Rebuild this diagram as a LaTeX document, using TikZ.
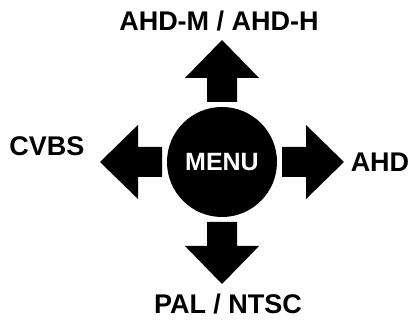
\documentclass[tikz,border=0pt]{standalone}
\usepackage{fontspec}
\setmainfont{Liberation Sans}
\usetikzlibrary{positioning}

\begin{document}
\begin{tikzpicture}[x=1pt,y=-1pt,
    keyarrow/.style={fill=black},
    lbl/.style={font=\bfseries\fontsize{27}{30}\selectfont, inner sep=0pt}]

      \useasboundingbox (0,0) rectangle (410,320);

      % menu button
      \node[circle, fill=black, minimum size=110pt, inner sep=0pt,
        text=white, font=\bfseries\fontsize{25}{28}\selectfont] (menu) at (222,162) {MENU};

      % four arrows around the button
      \foreach \ang/\nm in {0/right,90/up,180/left,270/down} {
        \begin{scope}[shift={(menu.center)}, rotate=\ang]
          \fill[keyarrow] (60,-15) -- (84,-15) -- (84,-37) -- (122,0)
            -- (84,37) -- (84,15) -- (60,15) -- cycle;
        \end{scope}
      }

      % labels
      \node[lbl] (lblup) at (219,21) {AHD-M / AHD-H};
      \node[lbl] (lbldown) at (228,304) {PAL / NTSC};
      \node[lbl] (lblleft) at (47,146) {CVBS};
      \node[lbl] (lblright) at (380,162) {AHD};

\end{tikzpicture}
\end{document}
